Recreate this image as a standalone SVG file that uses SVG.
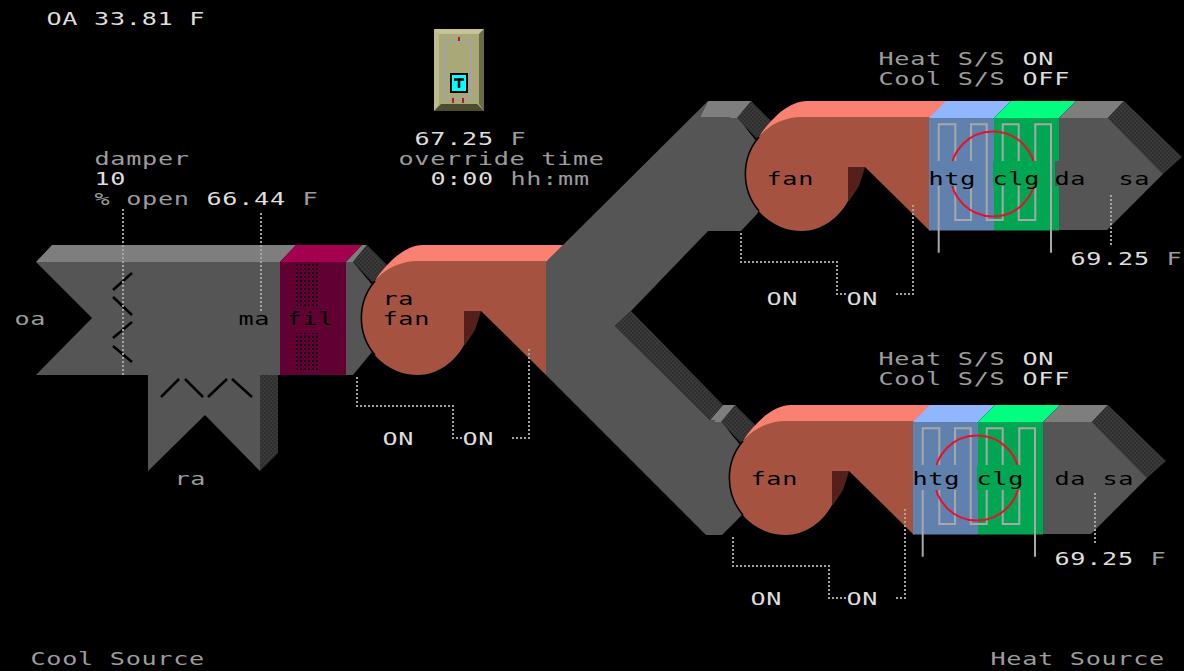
<svg xmlns="http://www.w3.org/2000/svg" width="1184" height="671" viewBox="0 0 1184 671">
<style>
text{font-family:"DejaVu Sans Mono","Liberation Mono",monospace;font-size:18px;letter-spacing:.5px;white-space:pre}
.w{fill:#dedede}.g{fill:#9c9c9c}.k{fill:#000}
.face{fill:#555}.bev{fill:#7e7e7e}.drk{fill:url(#hatch)}
.dot{fill:none;stroke:#a4a4a4;stroke-width:2;stroke-dasharray:2 2}
.bl{fill:none;stroke:#000;stroke-width:2.500}
</style>
<defs>
<pattern id="hatch" width="4" height="4" patternUnits="userSpaceOnUse"><rect width="4" height="4" fill="#3a3a3a"/><rect width="2" height="2" fill="#2f2f2f"/><rect x="2" y="2" width="2" height="2" fill="#2f2f2f"/></pattern>
<pattern id="fdots" width="4" height="4" patternUnits="userSpaceOnUse"><rect width="2" height="2" fill="#1c0010"/></pattern>
<g id="fan">
<path d="M464 311H481L475 330 465 345H450V311Z" fill="#55201c"/>
<path d="M376 279C388 262 405 245 423 245H563L546 262H418Z" fill="#fa8072"/>
<path d="M418 261H546V375L481 311H464V345C455 362 437 375 418 375A57 57 0 0 1 418 261Z" fill="#a55340"/>
<path d="M375 281A57 57 0 0 0 375 355" fill="none" stroke="#000" stroke-width="1.500"/>
</g>
<g id="conn">
<path d="M346 262L362 245H367L353 262Z" class="bev"/>
<path d="M353 262L367 245 390 268 373 283Z" class="drk"/>
<path d="M346 262H353L400 318 353 375H346Z" class="face"/>
</g>
<g id="coil">
<path d="M913 422L930 405H995L978 422Z" fill="#8fb6ff"/>
<path d="M978 422L995 405H1060L1043 422Z" fill="#00ff80"/>
<path d="M1043 422L1060 405H1108L1092 422Z" class="bev"/>
<path d="M1092 422L1108 405 1166 461 1147 478Z" class="drk"/>
<path d="M1043 422H1092L1147 478 1091 534H1043Z" class="face"/>
<rect x="913" y="422" width="65" height="112.500" fill="#6080ad"/>
<rect x="978" y="422" width="65" height="112.500" fill="#00a651"/>
<path d="M922.700 556.700V428.300H939.300V524H955V428.300H970.700V524H986.700V428.300H1002.700V524H1019.300V428.300H1035V556.700" fill="none" stroke="#a8a8a8" stroke-width="2"/>
<circle cx="977" cy="478" r="42.500" fill="none" stroke="#e8102a" stroke-width="2"/>
<rect x="913" y="465" width="44" height="25" fill="#6080ad"/>
<rect x="977" y="465" width="44" height="25" fill="#00a651"/>
</g>
</defs>
<rect width="1184" height="671" fill="#000"/>

<g id="duct-main">
<path d="M546 262L563 245 708 101 700 117H738L780 175 757 214 741 231H708L631 311 615 326 710 420 722 421 760 478 741 516 722 535H706L546 375Z" class="face"/>
<path d="M700 117L708 101H752L738 117Z" class="bev"/>
<path d="M710 420L723 405H736L722 421Z" class="bev"/>
<path d="M631 311L615 326 710 420 723 405Z" class="drk"/>
<use href="#conn" transform="translate(384,-144)"/>
<use href="#conn" transform="translate(368,160)"/>
</g>

<g id="mixing-box">
<path d="M36 262L52 245H296L280 262Z" class="bev"/>
<path d="M36 262H280V375H260V471L205 415 148 471V375H36L92 318Z" class="face"/>
<path d="M260 375H278V453L260 471Z" class="drk"/>
<path class="bl" d="M113 290L132 273M113 297L132 315M113 338L132 322M113 346L132 362M161 397L179 379M185 379L203 397M208 397L227 379M232 379L252 397"/>
</g>

<g id="filter">
<path d="M280 262L296 245H362L346 262Z" fill="#a3004f"/>
<rect x="280" y="262" width="66" height="113" fill="#610033"/>
<rect x="296" y="264" width="22" height="43" fill="url(#fdots)"/>
<rect x="296" y="333" width="22" height="39" fill="url(#fdots)"/>
</g>
<g id="filter-outlet"><use href="#conn"/></g>

<g id="ra-fan"><use href="#fan"/>
<text class="k" transform="translate(382.500 304.500) scale(1.4 1)">ra</text>
<text class="k" transform="translate(382.500 324.500) scale(1.4 1)">fan</text>
</g>
<g id="fan-1"><use href="#fan" transform="translate(384,-144)"/>
<text class="k" transform="translate(766.500 184.500) scale(1.4 1)">fan</text></g>
<g id="fan-2"><use href="#fan" transform="translate(368,160)"/>
<text class="k" transform="translate(750.500 484.500) scale(1.4 1)">fan</text></g>

<g id="coil-1"><use href="#coil" transform="translate(16,-304)"/>
<rect x="1055" y="161" width="5" height="25" fill="#555"/>
<text class="k" transform="translate(928.500 184.500) scale(1.4 1)">htg</text>
<text class="k" transform="translate(992.500 184.500) scale(1.4 1)">clg</text>
<text class="k" transform="translate(1054.500 184.500) scale(1.4 1)">da</text>
<text class="k" transform="translate(1118.500 184.500) scale(1.4 1)">sa</text></g>
<g id="coil-2"><use href="#coil"/>
<text class="k" transform="translate(912.500 484.500) scale(1.4 1)">htg</text>
<text class="k" transform="translate(976.500 484.500) scale(1.4 1)">clg</text>
<text class="k" transform="translate(1054.500 484.500) scale(1.4 1)">da</text>
<text class="k" transform="translate(1102.500 484.500) scale(1.4 1)">sa</text></g>

<g id="thermostat">
<rect x="434" y="29" width="50" height="82" fill="#a8a878"/>
<path d="M434 29H484L479 34H439Z" fill="#c4c498"/>
<path d="M434 29L439 34V104L434 111Z" fill="#bcbc90"/>
<path d="M484 29L479 34V104L484 111Z" fill="#6a6a45"/>
<path d="M434 111L441 104H477L484 111Z" fill="#4c4c2e"/>
<rect x="446" y="41" width="25" height="58" fill="#a8a878" stroke="#a4a4a4" stroke-width="2"/>
<rect x="450" y="73" width="18" height="20" fill="#000"/>
<rect x="452" y="75" width="14" height="16" fill="#00ffff"/>
<path d="M454 79.500H464M459 79.500V88" fill="none" stroke="#000" stroke-width="2.500"/>
<path d="M459 37V41M453 98V103M463 98V103" fill="none" stroke="#c01818" stroke-width="2"/>
</g>

<g id="connectors">
<path class="dot" d="M123 209V375"/>
<path class="dot" d="M261 213V312"/>
<path class="dot" d="M357 377V406H453V438H463"/>
<path class="dot" d="M512 438H529V349"/>
<path class="dot" d="M741 233V262H837V294H847"/>
<path class="dot" d="M896 294H913V205"/>
<path class="dot" d="M733 537V566H829V598H847"/>
<path class="dot" d="M896 598H905V509"/>
<path class="dot" d="M1111 195V247"/>
<path class="dot" d="M1095 493V544"/>
</g>

<g id="labels">
<text class="w" transform="translate(46.500 24.500) scale(1.4 1)">OA 33.81 F</text>
<text class="g" transform="translate(94.500 164.500) scale(1.4 1)">damper</text>
<text class="w" transform="translate(94.500 184.500) scale(1.4 1)">10</text>
<text class="g" transform="translate(94.500 204.500) scale(1.4 1)">% open</text>
<text class="w" transform="translate(206.500 204.500) scale(1.4 1)">66.44</text>
<text class="g" transform="translate(302.500 204.500) scale(1.4 1)">F</text>
<text class="g" transform="translate(14.500 324.500) scale(1.4 1)">oa</text>
<text class="k" transform="translate(238.500 324.500) scale(1.4 1)">ma</text>
<text class="k" transform="translate(286.500 324.500) scale(1.4 1)">fil</text>
<text class="g" transform="translate(174.500 484.500) scale(1.4 1)">ra</text>
<text class="w" transform="translate(414.500 144.500) scale(1.4 1)">67.25</text>
<text class="g" transform="translate(510.500 144.500) scale(1.4 1)">F</text>
<text class="g" transform="translate(398.500 164.500) scale(1.4 1)">override time</text>
<text class="w" transform="translate(430.500 184.500) scale(1.4 1)">0:00</text>
<text class="g" transform="translate(510.500 184.500) scale(1.4 1)">hh:mm</text>
<text class="w" transform="translate(382.500 444.500) scale(1.4 1)">ON</text>
<text class="w" transform="translate(462.500 444.500) scale(1.4 1)">ON</text>
<text class="g" transform="translate(878.500 64.500) scale(1.4 1)">Heat S/S</text>
<text class="w" transform="translate(1022.500 64.500) scale(1.4 1)">ON</text>
<text class="g" transform="translate(878.500 84.500) scale(1.4 1)">Cool S/S</text>
<text class="w" transform="translate(1022.500 84.500) scale(1.4 1)">OFF</text>
<text class="w" transform="translate(766.500 304.500) scale(1.4 1)">ON</text>
<text class="w" transform="translate(846.500 304.500) scale(1.4 1)">ON</text>
<text class="w" transform="translate(1070.500 264.500) scale(1.4 1)">69.25</text>
<text class="g" transform="translate(1166.500 264.500) scale(1.4 1)">F</text>
<text class="g" transform="translate(878.500 364.500) scale(1.4 1)">Heat S/S</text>
<text class="w" transform="translate(1022.500 364.500) scale(1.4 1)">ON</text>
<text class="g" transform="translate(878.500 384.500) scale(1.4 1)">Cool S/S</text>
<text class="w" transform="translate(1022.500 384.500) scale(1.4 1)">OFF</text>
<text class="w" transform="translate(750.500 604.500) scale(1.4 1)">ON</text>
<text class="w" transform="translate(846.500 604.500) scale(1.4 1)">ON</text>
<text class="w" transform="translate(1054.500 564.500) scale(1.4 1)">69.25</text>
<text class="g" transform="translate(1150.500 564.500) scale(1.4 1)">F</text>
<text class="g" transform="translate(30.500 664.500) scale(1.4 1)">Cool Source</text>
<text class="g" transform="translate(990.500 664.500) scale(1.4 1)">Heat Source</text>
</g>
</svg>
